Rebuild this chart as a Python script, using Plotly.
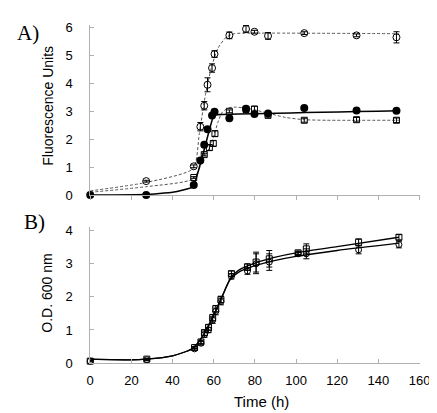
import plotly.graph_objects as go

# ---------------- Panel A data (fluorescence) ----------------
a_time = [0, 27.2, 50.3, 53.5, 55.4, 57.0, 59.2, 60.4, 67.6, 75.7, 79.8, 86.4, 104, 129.4, 148.8]
a_filled = [0, 0, 0.36, 1.24, 1.8, 2.36, 2.85, 2.98, 2.75, 3.09, 2.9, 2.92, 3.12, 3.03, 3.02]

a_circ_t = [27.2, 50.3, 53.5, 55.4, 57.0, 59.2, 60.4, 67.6, 75.7, 79.8, 86.4, 104, 129.4, 148.8]
a_circ = [0.5, 1.03, 2.45, 3.2, 3.95, 4.55, 5.05, 5.72, 5.95, 5.85, 5.7, 5.8, 5.72, 5.65]
a_circ_err = [0.03, 0.05, 0.15, 0.15, 0.25, 0.15, 0.12, 0.12, 0.12, 0.05, 0.12, 0.05, 0.05, 0.2]

a_sq_t = [50.3, 55.4, 57.9, 59.8, 60.6, 67.6, 75.7, 79.8, 86.4, 104, 129.4, 148.8]
a_sq = [0.63, 1.45, 1.7, 1.85, 2.2, 3.0, 3.07, 3.08, 2.86, 2.68, 2.7, 2.68]
a_sq_err = [0.03, 0.05, 0.1, 0.1, 0.1, 0.05, 0.1, 0.1, 0.1, 0.07, 0.08, 0.08]

# fitted curves
fit_filled_t = [0, 27, 40, 50, 60, 62, 150]
fit_filled = [0, 0.02, 0.1, 0.3, 2.85, 2.88, 3.02]
fit_circ_t = [0, 27, 50, 53, 56, 59, 62, 66, 70, 80, 150]
fit_circ = [0.15, 0.45, 0.95, 2.2, 3.6, 4.6, 5.25, 5.65, 5.78, 5.8, 5.78]
fit_sq_t = [0, 27, 50, 55, 58, 60, 62, 64, 67, 70, 75, 80, 86, 95, 104, 115, 150]
fit_sq = [0.1, 0.3, 0.58, 1.3, 1.7, 2.1, 2.6, 2.95, 3.12, 3.15, 3.12, 3.05, 2.94, 2.78, 2.7, 2.68, 2.68]

# ---------------- Panel B data (O.D. 600 nm) ----------------
b_time = [0, 27.5, 50.7, 53.8, 55.5, 57.5, 59.5, 61.0, 63.5, 68.6, 76.4, 80.6, 87, 101, 105, 130.4, 150]
b_sq = [0.06, 0.12, 0.47, 0.64, 0.92, 1.08, 1.37, 1.64, 1.92, 2.7, 2.9, 3.05, 3.15, 3.33, 3.45, 3.65, 3.8]
b_sq_err = [0.02, 0.02, 0.03, 0.05, 0.08, 0.08, 0.1, 0.1, 0.1, 0.08, 0.1, 0.3, 0.25, 0.05, 0.15, 0.1, 0.08]
b_circ = [0.06, 0.1, 0.43, 0.6, 0.86, 1.0, 1.3, 1.56, 1.86, 2.62, 2.78, 3.0, 3.05, 3.3, 3.3, 3.42, 3.58]
b_circ_err = [0.02, 0.02, 0.03, 0.05, 0.08, 0.08, 0.1, 0.1, 0.1, 0.08, 0.1, 0.3, 0.25, 0.05, 0.15, 0.12, 0.1]

fit_b_t = [0, 20, 27, 40, 50, 55, 60, 64, 68, 72, 80, 90, 100, 120, 150]
fit_b_sq = [0.12, 0.1, 0.12, 0.22, 0.45, 0.85, 1.45, 2.0, 2.55, 2.8, 3.02, 3.2, 3.33, 3.52, 3.8]
fit_b_circ = [0.12, 0.1, 0.12, 0.22, 0.45, 0.85, 1.45, 2.0, 2.52, 2.74, 2.94, 3.1, 3.22, 3.4, 3.62]

x_ticks = [0, 20, 40, 60, 80, 100, 120, 140, 160]

DASH = "3px,2px"
GRAY = "#555555"

def errbar(vals):
    return dict(type="data", array=vals, visible=True, color="black", thickness=1, width=3)

fig = go.Figure()

# Panel A lines
fig.add_trace(go.Scatter(x=fit_circ_t, y=fit_circ, mode="lines", xaxis="x", yaxis="y",
                         line=dict(color=GRAY, width=1, dash=DASH, shape="spline", smoothing=0.6),
                         showlegend=False, hoverinfo="skip"))
fig.add_trace(go.Scatter(x=fit_sq_t, y=fit_sq, mode="lines", xaxis="x", yaxis="y",
                         line=dict(color=GRAY, width=1, dash=DASH, shape="spline", smoothing=0.6),
                         showlegend=False, hoverinfo="skip"))
fig.add_trace(go.Scatter(x=fit_filled_t, y=fit_filled, mode="lines", xaxis="x", yaxis="y",
                         line=dict(color="black", width=1.6, shape="spline", smoothing=0.3),
                         showlegend=False, hoverinfo="skip"))
# Panel A markers
fig.add_trace(go.Scatter(x=a_circ_t, y=a_circ, mode="markers", xaxis="x", yaxis="y",
                         error_y=errbar(a_circ_err), cliponaxis=False,
                         marker=dict(symbol="circle-open", size=7, color="black", line=dict(width=1)),
                         showlegend=False))
fig.add_trace(go.Scatter(x=a_sq_t, y=a_sq, mode="markers", xaxis="x", yaxis="y",
                         error_y=errbar(a_sq_err), cliponaxis=False,
                         marker=dict(symbol="square-open", size=6, color="black", line=dict(width=1)),
                         showlegend=False))
fig.add_trace(go.Scatter(x=a_time, y=a_filled, mode="markers", xaxis="x", yaxis="y",
                         cliponaxis=False,
                         marker=dict(symbol="circle", size=8, color="black"),
                         showlegend=False))

# Panel B lines
fig.add_trace(go.Scatter(x=fit_b_t, y=fit_b_sq, mode="lines", xaxis="x2", yaxis="y2",
                         line=dict(color="black", width=1.3, shape="spline", smoothing=0.6),
                         showlegend=False, hoverinfo="skip"))
fig.add_trace(go.Scatter(x=fit_b_t, y=fit_b_circ, mode="lines", xaxis="x2", yaxis="y2",
                         line=dict(color="black", width=1.3, shape="spline", smoothing=0.6),
                         showlegend=False, hoverinfo="skip"))
fig.add_trace(go.Scatter(x=b_time, y=b_circ, mode="markers", xaxis="x2", yaxis="y2",
                         error_y=errbar(b_circ_err), cliponaxis=False,
                         marker=dict(symbol="circle-open", size=6, color="black", line=dict(width=1)),
                         showlegend=False))
fig.add_trace(go.Scatter(x=b_time, y=b_sq, mode="markers", xaxis="x2", yaxis="y2",
                         error_y=errbar(b_sq_err), cliponaxis=False,
                         marker=dict(symbol="square-open", size=6, color="black", line=dict(width=1)),
                         showlegend=False))

axis_common = dict(showgrid=False, zeroline=False, showline=True, linecolor="#b0b0b0", linewidth=1,
                   ticklen=4, tickcolor="#b0b0b0",
                   tickfont=dict(family="Arial, Liberation Sans, sans-serif", size=13, color="black"))

X0 = 81 / 437
X1 = 422 / 437
A_Y0 = 188   # pixel of y=0 in panel A
A_U = 28.83  # px per unit
B_Y0 = 361.5
B_U = 34.2
fig.update_layout(
    width=437, height=413,
    margin=dict(l=0, r=0, t=0, b=0),
    paper_bgcolor="white", plot_bgcolor="white",
    xaxis=dict(domain=[X0, X1], range=[0, 160], tickvals=x_ticks, showticklabels=False,
               anchor="y", ticks="outside", **axis_common),
    yaxis=dict(domain=[1 - A_Y0 / 413, 1 - (A_Y0 - 6.1 * A_U) / 413], range=[0, 6.1],
               tickvals=[0, 1, 2, 3, 4, 5, 6], anchor="x", ticks="inside",
               ticklabelstandoff=14, **axis_common),
    xaxis2=dict(domain=[X0, X1], range=[0, 160], tickvals=x_ticks, anchor="y2", ticks="inside",
                ticklabelstandoff=5, **axis_common),
    yaxis2=dict(domain=[1 - B_Y0 / 413, 1 - (B_Y0 - 4.1 * B_U) / 413], range=[0, 4.1],
                tickvals=[0, 1, 2, 3, 4], anchor="x2", ticks="inside",
                ticklabelstandoff=14, **axis_common),
    annotations=[
        dict(text="A)", x=3 / 437, y=1 - 21 / 413, xref="paper", yref="paper", xanchor="left",
             yanchor="middle", showarrow=False,
             font=dict(family="Liberation Serif, Times New Roman, serif", size=21, color="black")),
        dict(text="B)", x=10 / 437, y=1 - 216 / 413, xref="paper", yref="paper", xanchor="left",
             yanchor="middle", showarrow=False,
             font=dict(family="Liberation Serif, Times New Roman, serif", size=21, color="black")),
        dict(text="Fluorescence Units", x=37 / 437, y=1 - 96 / 413, xref="paper", yref="paper",
             textangle=-90, showarrow=False, xanchor="center", yanchor="middle",
             font=dict(family="Arial, Liberation Sans, sans-serif", size=14, color="black")),
        dict(text="O.D. 600 nm", x=36 / 437, y=1 - 289 / 413, xref="paper", yref="paper",
             textangle=-90, showarrow=False, xanchor="center", yanchor="middle",
             font=dict(family="Arial, Liberation Sans, sans-serif", size=14, color="black")),
        dict(text="Time (h)", x=258 / 437, y=1 - 401 / 413, xref="paper", yref="paper",
             showarrow=False, xanchor="center", yanchor="middle",
             font=dict(family="Arial, Liberation Sans, sans-serif", size=15, color="black")),
    ],
)

fig.write_html("out.html")
